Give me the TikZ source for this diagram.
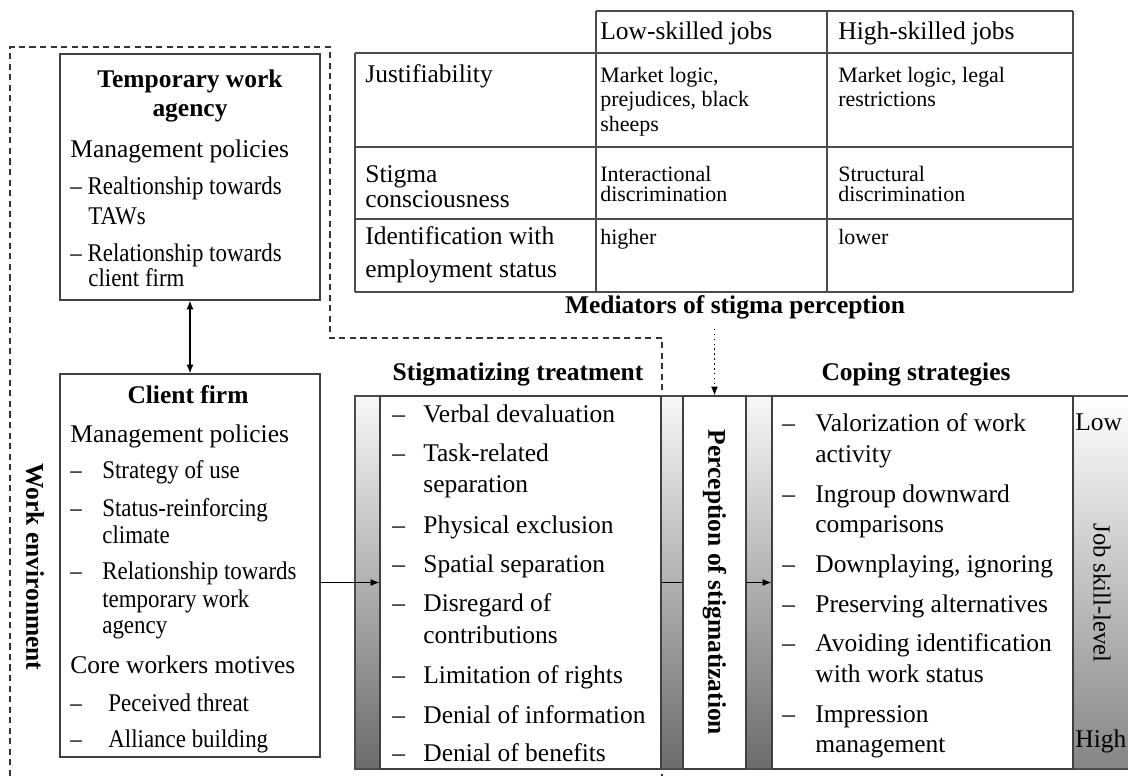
\documentclass[tikz,border=0pt]{standalone}
\usepackage{fontspec}
\setmainfont{Liberation Serif}
\newfontfamily\narrowserif[FakeStretch=0.9]{Liberation Serif}
\usetikzlibrary{arrows.meta,fit}

\tikzset{
  txt/.style={font=\fontsize{14.5}{16}\selectfont, inner sep=0, anchor=base west},
  item/.style={font=\narrowserif\fontsize{14.5}{16}\selectfont, inner sep=0, anchor=base west},
  cell/.style={font=\fontsize{12.5}{14}\selectfont, inner sep=0, anchor=base west},
  head/.style={font=\fontsize{14.5}{16}\selectfont\bfseries, inner sep=0, anchor=base},
  frame/.style={draw=black!75, line width=0.6pt, inner sep=0},
  rule/.style={black!70, line width=0.6pt},
  bar/.style={top color=black!3, bottom color=black!58},
  link/.style={line width=0.8pt},
}

\begin{document}
\begin{tikzpicture}[x=0.02cm, y=-0.02cm, >={Latex[length=5pt,width=4pt]}]
\useasboundingbox (0,0) rectangle (1128,776);

% work environment (dashed region)
\draw[black!80, line width=0.6pt, dash pattern=on 3.5pt off 2.5pt] (10,776) -- (10,47) -- (330,47) -- (330,338) -- (662,338) -- (662,776);
\node[head, rotate=-90, anchor=center] (workenv) at (35,567) {Work environment};

% temporary work agency
\node[frame, fit={(60,54) (320,300)}] (agency) {};
\node[head] (ag1) at (190,88) {Temporary work};
\node[head] (ag2) at (190,117) {agency};
\node[txt] (agt0) at (70,158) {Management policies};
\foreach \x/\y/\t [count=\i] in {70/195/\textendash\ Realtionship towards, 88/225/TAWs, 70/262/\textendash\ Relationship towards, 88/287/client firm}
  \node[item] (agt\i) at (\x,\y) {\t};

% client firm
\node[frame, fit={(60,374) (320,757)}] (client) {};
\node[head] (cfname) at (188,403) {Client firm};
\node[txt] (cfm) at (70,442) {Management policies};
\node[txt] (cfc) at (70,673) {Core workers motives};
\foreach \x/\y/\t [count=\i] in {102/478/Strategy of use, 102/516/Status-reinforcing, 102/543/climate, 102/579/Relationship towards, 102/607/temporary work, 102/633/agency, 108/711/Peceived threat, 108/747/Alliance building}
  \node[item] (cf\i) at (\x,\y) {\t};
\foreach \y [count=\i] in {478,516,579,711,747}
  \node[item] (cfd\i) at (70,\y) {\textendash};

% mediators table
\draw[rule] (596,11) -- (1073,11);
\foreach \y in {53,147,219,292}
  \draw[rule] (355,\y) -- (1073,\y);
\draw[rule] (355,53) -- (355,292);
\foreach \x in {596,827,1073}
  \draw[rule] (\x,11) -- (\x,292);
\foreach \x/\y/\t [count=\i] in {600/40/Low-skilled jobs, 838/40/High-skilled jobs, 365/83/Justifiability, 365/183/Stigma, 365/208/consciousness, 365/245/Identification with, 365/278/employment status}
  \node[txt] (tb\i) at (\x,\y) {\t};
\foreach \x/\y/\t [count=\i] in {600/83/{Market logic,}, 600/107/{prejudices, black}, 600/132/sheeps, 838/83/{Market logic, legal}, 838/107/restrictions, 600/182/Interactional, 600/202/discrimination, 838/182/Structural, 838/202/discrimination, 600/245/higher, 838/245/lower}
  \node[cell] (tc\i) at (\x,\y) {\t};
\node[head] (medhead) at (735,314) {Mediators of stigma perception};

% gradient bars
\shade[bar] (355,396) rectangle (380,769);
\shade[bar] (661,396) rectangle (683,769);
\shade[bar] (746,396) rectangle (772,769);
\shade[top color=white, bottom color=black!48] (1073,396) rectangle (1128,769);
\draw[rule] (1128,396) -- (355,396) -- (355,769) -- (1128,769);

% stigmatizing treatment
\node[frame, fit={(380,396) (661,769)}] (stiglist) {};
\node[head] (sthead) at (518,380) {Stigmatizing treatment};
\foreach \y/\t [count=\i] in {422/Verbal devaluation, 461/Task-related, 492/separation, 533/Physical exclusion, 572/Spatial separation, 611/Disregard of, 643/contributions, 683/Limitation of rights, 723/Denial of information, 761/Denial of benefits}
  \node[txt] (st\i) at (423,\y) {\t};
\foreach \y [count=\i] in {422,461,533,572,611,683,723,761}
  \node[txt] (std\i) at (392,\y) {\textendash};

% perception
\node[frame, fit={(683,396) (746,769)}] (perc) {};
\node[head, rotate=-90, anchor=center] (perctext) at (perc.center) {Perception of stigmatization};

% coping strategies
\node[frame, fit={(772,396) (1073,769)}] (coping) {};
\node[head] (cphead) at (916,380) {Coping strategies};
\foreach \y/\t [count=\i] in {431/Valorization of work, 462/activity, 502/Ingroup downward, 532/comparisons, 572/{Downplaying, ignoring}, 612/Preserving alternatives, 651/Avoiding identification, 682/with work status, 722/Impression, 752/management}
  \node[txt] (cp\i) at (815,\y) {\t};
\foreach \y [count=\i] in {431,502,572,612,651,722}
  \node[txt] (cpd\i) at (782,\y) {\textendash};

% job skill level
\node[txt] (low) at (1075,430) {Low};
\node[txt] (high) at (1075,747) {High};
\node[txt, rotate=-90, anchor=center, font=\fontsize{14}{16}\selectfont] (skill) at (1102,593) {Job skill-level};

% connectors
\draw[link, <->] (agency.south) -- (client.north);
\draw[link, ->] (client.east |- perc.west) -- (stiglist.west |- perc.west);
\draw[link] (stiglist.east |- perc.west) -- (perc.west);
\draw[link, ->] (perc.east) -- (coping.west |- perc.east);
\draw[link, dotted, ->, shorten <=5pt] (medhead.south -| perc.north) -- (perc.north);
\end{tikzpicture}
\end{document}
